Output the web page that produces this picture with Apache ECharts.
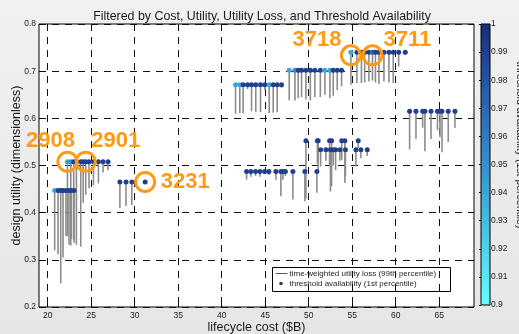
<!DOCTYPE html>
<html>
<head>
<meta charset="utf-8">
<script src="https://cdn.jsdelivr.net/npm/echarts@6/dist/echarts.min.js"></script>
<style>
  html, body { margin: 0; padding: 0; background: #ebebeb; }
  #chart { width: 519px; height: 334px; }
</style>
</head>
<body>
<div id="chart"></div>
<script>
// Axis tick values
const costTicks = [20, 25, 30, 35, 40, 45, 50, 55, 60, 65];
const utilityTicks = [0.2, 0.3, 0.4, 0.5, 0.6, 0.7, 0.8];
const availabilityTicks = [0.9, 0.91, 0.92, 0.93, 0.94, 0.95, 0.96, 0.97, 0.98, 0.99, 1];

// Designs that passed the filters: lifecycle cost ($B), design utility,
// utility after the 99th-percentile time-weighted loss, and 1st-percentile threshold availability
const designCost = [
  20.80, 21.19, 21.50, 21.76, 22.10, 22.45, 22.73, 23.03,
  22.27, 22.65, 22.99, 23.30, 23.80, 24.08, 24.37, 24.75, 25.26, 25.83, 26.36, 26.94,
  28.30, 29.00, 29.67, 31.20,
  41.59, 42.08, 42.46, 42.97, 43.43, 43.92, 44.46, 44.96, 45.46, 45.92, 46.38, 46.88,
  47.76, 48.42, 48.79, 49.18, 49.68, 50.19, 50.71, 51.34, 51.86, 52.44, 52.82, 53.28, 53.78,
  54.85, 55.54, 56.06, 56.43, 56.92, 57.33, 57.67, 58.07, 58.65, 59.22, 59.72, 60.34, 61.10,
  42.86, 43.35, 43.89, 44.39, 44.93, 45.42, 46.23, 46.80, 47.03, 47.32, 48.18, 49.56, 50.94,
  49.68, 51.00, 51.09, 52.40, 52.63, 53.80, 54.16, 55.69,
  51.37, 51.98, 52.50, 52.82, 53.09, 53.59, 54.22, 55.43, 56.00, 56.73,
  61.60, 62.33, 63.10, 63.36, 64.06, 64.80, 65.09, 65.32, 66.04, 66.81
];
const designUtility = [
  0.447, 0.447, 0.447, 0.447, 0.447, 0.447, 0.447, 0.447,
  0.508, 0.508, 0.508, 0.508, 0.508, 0.508, 0.508, 0.508, 0.508, 0.508, 0.508, 0.508,
  0.465, 0.465, 0.465, 0.465,
  0.671, 0.671, 0.671, 0.671, 0.671, 0.671, 0.671, 0.671, 0.671, 0.671, 0.671, 0.671,
  0.702, 0.702, 0.702, 0.702, 0.702, 0.702, 0.702, 0.702, 0.702, 0.702, 0.702, 0.702, 0.702,
  0.740, 0.740, 0.740, 0.740, 0.740, 0.740, 0.740, 0.740, 0.740, 0.740, 0.740, 0.740, 0.740,
  0.4875, 0.4875, 0.4875, 0.4875, 0.4875, 0.4875, 0.4875, 0.4875, 0.4875, 0.4875, 0.4875, 0.4875, 0.4875,
  0.5526, 0.5526, 0.5526, 0.5526, 0.5526, 0.5526, 0.5526, 0.5526,
  0.5335, 0.5335, 0.5335, 0.5335, 0.5335, 0.5335, 0.5335, 0.5335, 0.5335, 0.5335,
  0.615, 0.615, 0.615, 0.615, 0.615, 0.615, 0.615, 0.615, 0.615, 0.615
];
const utilityAfterLoss = [
  0.320, 0.312, 0.250, 0.305, 0.350, 0.332, 0.345, 0.336,
  0.350, 0.330, 0.342, 0.332, 0.328, 0.421, 0.438, 0.452, 0.458, 0.462, 0.485, 0.490,
  0.410, 0.414, 0.416, 0.462,
  0.610, 0.611, 0.611, 0.662, 0.615, 0.613, 0.613, 0.660, 0.611, 0.612, 0.613, 0.665,
  0.638, 0.638, 0.643, 0.645, 0.640, 0.638, 0.645, 0.645, 0.650, 0.643, 0.648, 0.660, 0.668,
  0.671, 0.675, 0.675, 0.676, 0.678, 0.680, 0.676, 0.673, 0.678, 0.676, 0.675, 0.710, 0.735,
  0.470, 0.476, 0.478, 0.476, 0.483, 0.480, 0.470, 0.435, 0.470, 0.478, 0.428, 0.424, 0.442,
  0.430, 0.505, 0.490, 0.498, 0.456, 0.512, 0.463, 0.537,
  0.498, 0.510, 0.445, 0.500, 0.490, 0.510, 0.477, 0.498, 0.516, 0.520,
  0.534, 0.556, 0.580, 0.530, 0.556, 0.575, 0.560, 0.528, 0.550, 0.580
];
const availability = [
  0.94, 0.99, 0.99, 0.99, 0.99, 0.99, 0.99, 0.99,
  0.94, 0.95, 0.99, 0.99, 0.99, 0.99, 0.99, 0.99, 0.99, 0.99, 0.99, 0.99,
  0.99, 0.99, 0.99, 0.99,
  0.94, 0.94, 0.99, 0.99, 0.99, 0.99, 0.99, 0.99, 0.94, 0.99, 0.99, 0.99,
  0.94, 0.95, 0.99, 0.99, 0.99, 0.99, 0.99, 0.99, 0.94, 0.94, 0.99, 0.99, 0.99,
  0.94, 0.99, 0.99, 0.99, 0.99, 0.97, 0.99, 0.99, 0.99, 0.99, 0.99, 0.99, 0.99,
  0.99, 0.99, 0.99, 0.99, 0.99, 0.99, 0.99, 0.99, 0.99, 0.99, 0.99, 0.99, 0.99,
  0.99, 0.99, 0.99, 0.99, 0.99, 0.99, 0.99, 0.99,
  0.99, 0.99, 0.99, 0.99, 0.99, 0.99, 0.99, 0.99, 0.99, 0.99,
  0.99, 0.99, 0.99, 0.99, 0.99, 0.99, 0.99, 0.99, 0.99, 0.99
];

// Highlighted design IDs
const markedIds = ['2908', '2901', '3231', '3718', '3711'];
const markedCost = [22.27, 24.37, 31.20, 54.85, 57.33];
const markedUtility = [0.508, 0.508, 0.465, 0.740, 0.740];

// Availability colour ramp (0.9 -> 1.0)
const rampColors = ['#66ffff', '#48c6e6', '#3590cc', '#285fa9', '#1b2b7b'];

const orange = '#ff9a12';
const fontFamily = 'Liberation Sans, Arial, sans-serif';
const labelLayout = {
  '2908': { offset: [-17, -21], symbolOffset: [0, 0] },
  '2901': { offset: [30, -21], symbolOffset: [0, 0] },
  '3231': { offset: [40, 0], symbolOffset: [0, 0] },
  '3718': { offset: [-34, -15], symbolOffset: [0, 3] },
  '3711': { offset: [35, -15], symbolOffset: [0, 3] }
};

const chart = echarts.init(document.getElementById('chart'), null, { renderer: 'canvas' });

const stemData = designCost.map((c, i) => [c, designUtility[i], utilityAfterLoss[i]]);
const pointData = designCost.map((c, i) => [c, designUtility[i], availability[i]]);
const markedData = markedIds.map((id, i) => ({
  name: id,
  value: [markedCost[i], markedUtility[i]],
  symbolOffset: labelLayout[id].symbolOffset,
  label: { offset: labelLayout[id].offset }
}));

const gradStops = rampColors.map((c, i) => ({ offset: 1 - i / (rampColors.length - 1), color: c }));

const option = {
  animation: false,
  backgroundColor: new echarts.graphic.LinearGradient(0, 0, 0, 1, [
    { offset: 0, color: '#f1f1f1' }, { offset: 1, color: '#e6e6e6' }
  ]),
  textStyle: { fontFamily },
  title: {
    text: 'Filtered by Cost, Utility, Utility Loss, and Threshold Availability',
    left: 257, top: 6, textAlign: 'center',
    textStyle: { fontSize: 12.4, fontWeight: 'normal', color: '#1a1a1a', fontFamily }
  },
  grid: [
    { left: 39, top: 24, width: 435, height: 283, show: true, backgroundColor: '#ffffff',
      borderColor: '#000', borderWidth: 1, outerBoundsMode: 'none' },
    { left: 481, top: 24, width: 9, height: 281, show: false, outerBoundsMode: 'none' }
  ],
  xAxis: [
    {
      type: 'value', gridIndex: 0, min: 19, max: 69,
      name: 'lifecycle cost ($B)', nameLocation: 'middle', nameGap: 14, nameMoveOverlap: false,
      nameTextStyle: { fontSize: 12.5, color: '#1a1a1a' },
      axisLine: { show: false },
      axisTick: { show: true, inside: true, length: 4, customValues: costTicks, lineStyle: { color: '#000' } },
      axisLabel: { customValues: costTicks, fontSize: 8.5, color: '#222', margin: 4 },
      splitLine: { show: true, lineStyle: { color: '#111', type: [7, 6], width: 1 } }
    },
    { type: 'value', gridIndex: 1, min: 0, max: 1, show: false }
  ],
  yAxis: [
    {
      type: 'value', gridIndex: 0, min: 0.2, max: 0.8, interval: 0.1,
      name: 'design utility (dimensionless)', nameLocation: 'middle', nameGap: 16, nameMoveOverlap: false,
      nameTextStyle: { fontSize: 12.5, color: '#1a1a1a' },
      axisLine: { show: false },
      axisTick: { show: true, inside: true, length: 4, lineStyle: { color: '#000' } },
      axisLabel: { fontSize: 8.5, color: '#222', margin: 3, formatter: v => v.toFixed(1) },
      splitLine: { show: true, lineStyle: { color: '#111', type: [7, 6], width: 1 } }
    },
    {
      type: 'value', gridIndex: 1, min: 0.9, max: 1, interval: 0.01, position: 'right',
      axisLine: { show: false },
      axisTick: { show: true, inside: true, length: 2, lineStyle: { color: '#000' } },
      axisLabel: { fontSize: 8.5, color: '#222', margin: 1,
        formatter: v => String(availabilityTicks.find(t => Math.abs(t - v) < 1e-6) ?? v) },
      splitLine: { show: false }
    }
  ],
  visualMap: {
    type: 'continuous', show: false, min: 0.9, max: 1, dimension: 2, seriesIndex: 1,
    inRange: { color: rampColors }
  },
  series: [
    {
      name: 'time-weighted utility loss (99th percentile)',
      type: 'custom', xAxisIndex: 0, yAxisIndex: 0, data: stemData, z: 2,
      renderItem: (params, api) => {
        const top = api.coord([api.value(0), api.value(1)]);
        const bot = api.coord([api.value(0), api.value(2)]);
        return {
          type: 'line',
          shape: { x1: top[0], y1: top[1], x2: bot[0], y2: bot[1] },
          style: { stroke: '#8c8c8c', lineWidth: 1.6 }
        };
      }
    },
    {
      name: 'threshold availability (1st percentile)',
      type: 'scatter', xAxisIndex: 0, yAxisIndex: 0, data: pointData, z: 3,
      symbol: 'circle', symbolSize: 5,
      itemStyle: { opacity: 1 }
    },
    {
      name: 'marked designs',
      type: 'scatter', xAxisIndex: 0, yAxisIndex: 0, data: markedData, z: 4,
      symbol: 'circle', symbolSize: 19,
      itemStyle: { color: 'rgba(0,0,0,0)', borderColor: orange, borderWidth: 3, opacity: 1 },
      label: {
        show: true, position: 'inside', formatter: p => p.name,
        fontSize: 22, fontWeight: 'bold', color: orange, fontFamily
      }
    },
    {
      name: 'colorbar',
      type: 'custom', xAxisIndex: 1, yAxisIndex: 1, data: [[0, 0.9, 1, 1]], silent: true,
      renderItem: (params, api) => {
        const p0 = api.coord([api.value(0), api.value(3)]);
        const p1 = api.coord([api.value(2), api.value(1)]);
        return {
          type: 'rect',
          shape: { x: p0[0], y: p0[1], width: p1[0] - p0[0], height: p1[1] - p0[1] },
          style: {
            fill: new echarts.graphic.LinearGradient(0, 0, 0, 1, gradStops),
            stroke: '#000', lineWidth: 1
          }
        };
      }
    }
  ],
  graphic: [
    {
      type: 'group', left: 272, top: 267, children: [
        { type: 'rect', shape: { x: 0, y: 0, width: 178, height: 24 }, style: { fill: '#fff', stroke: '#000', lineWidth: 1 } },
        { type: 'line', shape: { x1: 3, y1: 6, x2: 15, y2: 6 }, style: { stroke: '#555', lineWidth: 1 } },
        { type: 'text', x: 17, y: 6, style: { text: 'time-weighted utility loss (99th percentile)', fontSize: 8, fill: '#222', verticalAlign: 'middle', fontFamily } },
        { type: 'circle', shape: { cx: 8.5, cy: 16, r: 1.8 }, style: { fill: '#1f3a8c' } },
        { type: 'text', x: 17, y: 16, style: { text: 'threshold availability (1st percentile)', fontSize: 8, fill: '#222', verticalAlign: 'middle', fontFamily } }
      ]
    },
    {
      type: 'text', x: 520, y: 145, rotation: -Math.PI / 2,
      style: { text: 'threshold availability (1st percentile)', fontSize: 10.5, fill: '#222', align: 'center', verticalAlign: 'middle', fontFamily }
    }
  ]
};

chart.setOption(option);
</script>
</body>
</html>
